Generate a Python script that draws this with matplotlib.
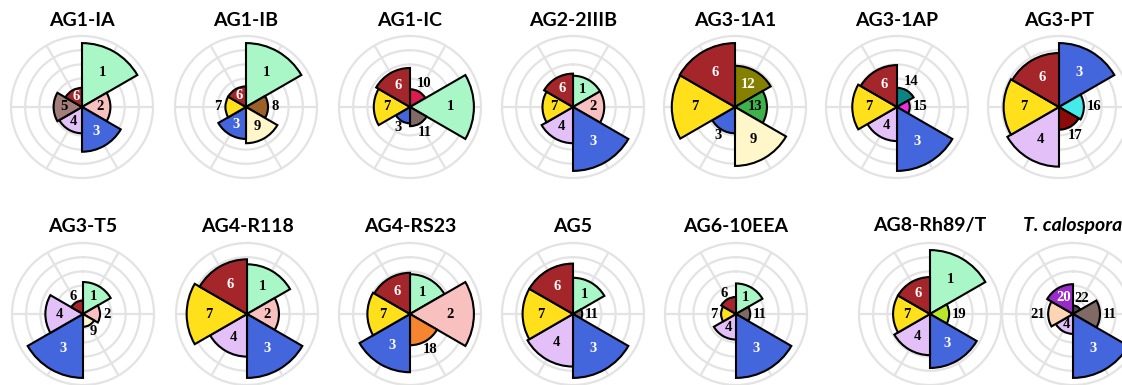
import numpy as np
import matplotlib
matplotlib.use("Agg")
import matplotlib.pyplot as plt

# ---- data -------------------------------------------------------------
titles = ["AG1-IA", "AG1-IB", "AG1-IC", "AG2-2IIIB", "AG3-1A1", "AG3-1AP", "AG3-PT",
          "AG3-T5", "AG4-R118", "AG4-RS23", "AG5", "AG6-10EEA", "AG8-Rh89/T", "T. calospora"]

# cluster ids per group, listed clockwise from 12 o'clock
clusters = [
    [1, 2, 3, 4, 5, 6],
    [1, 8, 9, 3, 7, 6],
    [10, 1, 11, 3, 7, 6],
    [1, 2, 3, 4, 7, 6],
    [12, 13, 9, 3, 7, 6],
    [14, 15, 3, 4, 7, 6],
    [3, 16, 17, 4, 7, 6],
    [1, 2, 9, 3, 4, 6],
    [1, 2, 3, 4, 7, 6],
    [1, 2, 18, 3, 7, 6],
    [1, 11, 3, 4, 7, 6],
    [1, 11, 3, 4, 7, 6],
    [1, 19, 3, 4, 7, 6],
    [22, 11, 3, 4, 21, 20],
]

values = [
    [90, 40, 63, 37, 40, 27],
    [90, 31, 51, 45, 29, 29],
    [25, 90, 27, 23, 51, 55],
    [44, 44, 90, 51, 43, 47],
    [58, 45, 83, 37, 89, 90],
    [27, 18, 90, 48, 63, 59],
    [90, 35, 32, 84, 78, 76],
    [45, 24, 18, 90, 53, 19],
    [70, 45, 90, 60, 85, 77],
    [56, 90, 44, 82, 60, 58],
    [51, 13, 90, 74, 71, 71],
    [43, 20, 90, 36, 21, 24],
    [90, 27, 76, 58, 52, 52],
    [12, 38, 90, 28, 35, 42],
]

cluster_colors = {
    1: "#a9f7c6", 2: "#f9c0c0", 3: "#4466dd", 4: "#e3c0f8", 5: "#a17e7a",
    6: "#a5262a", 7: "#ffe01a", 8: "#9c6127", 9: "#fff7c9", 10: "#dc1c4c",
    11: "#806a66", 12: "#858000", 13: "#3db24a", 14: "#0a8584", 15: "#ee2fe0",
    16: "#45ebeb", 17: "#8b0a0a", 18: "#f5852e", 19: "#b8e62a", 20: "#9a2bc8",
    21: "#fdd4b4", 22: "#4a4a4a",
}
dark_clusters = {3, 6, 12, 20}

# ---- layout -------------------------------------------------------------
W, H = 1122, 385
R_PX = 71
col_x = [82, 246, 410, 573, 735, 897, 1059]
row2_x = [83, 247, 410, 573, 736, 930, 1073]
row_y = [107, 314]
title_y = [21, 226]

# labels drawn beyond the bar end rather than inside it
outside = {
    "AG1-IB": {8, 7}, "AG1-IC": {10, 11, 3}, "AG3-1A1": {3}, "AG3-1AP": {14, 15},
    "AG3-PT": {16, 17}, "AG3-T5": {2, 9, 6}, "AG4-RS23": {18}, "AG5": {11},
    "AG6-10EEA": {11, 7, 6}, "AG8-Rh89/T": {19}, "T. calospora": {22, 11, 21},
}

GRID = "#e3e3e3"
fig = plt.figure(figsize=(W / 100, H / 100), dpi=100)

n = 6
theta = np.deg2rad(30 + 60 * np.arange(n))
width = 2 * np.pi / n

for k, (title, cl, vals) in enumerate(zip(titles, clusters, values)):
    row = k // 7
    col = k % 7
    cx = (col_x if row == 0 else row2_x)[col]
    cy = row_y[row]
    ax = fig.add_axes([(cx - R_PX) / W, 1 - (cy + R_PX) / H, 2 * R_PX / W, 2 * R_PX / H],
                      projection="polar")
    ax.set_theta_zero_location("N")
    ax.set_theta_direction(-1)
    ax.set_ylim(0, 100)
    ax.set_yticks([20, 40, 60, 80])
    ax.set_yticklabels([])
    ax.set_xticks(theta)
    ax.set_xticklabels([])
    ax.grid(True, color=GRID, lw=1.6)
    ax.spines["polar"].set_color(GRID)
    ax.spines["polar"].set_linewidth(1.6)
    ax.set_axisbelow(True)
    ax.patch.set_alpha(0)

    ax.bar(theta, vals, width=width, bottom=0,
           color=[cluster_colors[c] for c in cl], edgecolor="black", lw=1.5, zorder=3)

    out = outside.get(title, set())
    for t, v, c in zip(theta, vals, cl):
        txt = str(c)
        if c in out:
            r = v + (10 if len(txt) == 1 else 14)
            tc = "black"
        else:
            r = v * 0.63
            tc = "white" if c in dark_clusters else "black"
        ax.text(t, r, txt, ha="center", va="center", color=tc, fontsize=10.5,
                fontweight="bold", family="Liberation Serif", zorder=5, clip_on=False)

    style = "italic" if title.startswith("T.") else "normal"
    fig.text(cx / W, 1 - title_y[row] / H, title, ha="center", va="center",
             fontsize=14, fontweight="bold", family="Lato", style=style)

fig.savefig("out.png", dpi=100)
